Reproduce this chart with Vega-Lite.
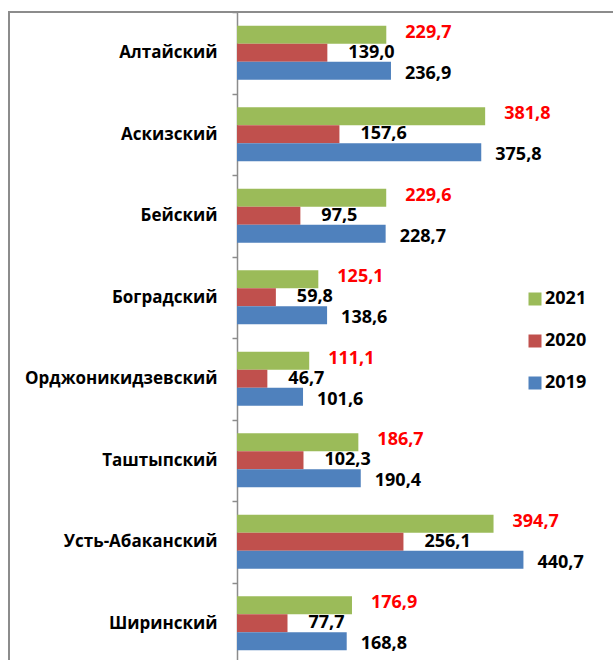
{
  "$schema": "https://vega.github.io/schema/vega-lite/v6.json",
  "autosize": {"type": "none"},
  "padding": {"left": 9, "top": 12, "right": -5, "bottom": -4},
  "width": 609,
  "height": 652,
  "config": {
    "view": {"stroke": "#8c8c8c", "strokeWidth": 2},
    "locale": {"number": {"decimal": ",", "thousands": " ", "grouping": [3], "currency": ["", ""]}},
    "font": "Open Sans"
  },
  "data": {
    "values": [
      {"district": "Алтайский", "year": "2021", "value": 229.7},
      {"district": "Алтайский", "year": "2020", "value": 139.0},
      {"district": "Алтайский", "year": "2019", "value": 236.9},
      {"district": "Аскизский", "year": "2021", "value": 381.8},
      {"district": "Аскизский", "year": "2020", "value": 157.6},
      {"district": "Аскизский", "year": "2019", "value": 375.8},
      {"district": "Бейский", "year": "2021", "value": 229.6},
      {"district": "Бейский", "year": "2020", "value": 97.5},
      {"district": "Бейский", "year": "2019", "value": 228.7},
      {"district": "Боградский", "year": "2021", "value": 125.1},
      {"district": "Боградский", "year": "2020", "value": 59.8},
      {"district": "Боградский", "year": "2019", "value": 138.6},
      {"district": "Орджоникидзевский", "year": "2021", "value": 111.1},
      {"district": "Орджоникидзевский", "year": "2020", "value": 46.7},
      {"district": "Орджоникидзевский", "year": "2019", "value": 101.6},
      {"district": "Таштыпский", "year": "2021", "value": 186.7},
      {"district": "Таштыпский", "year": "2020", "value": 102.3},
      {"district": "Таштыпский", "year": "2019", "value": 190.4},
      {"district": "Усть-Абаканский", "year": "2021", "value": 394.7},
      {"district": "Усть-Абаканский", "year": "2020", "value": 256.1},
      {"district": "Усть-Абаканский", "year": "2019", "value": 440.7},
      {"district": "Ширинский", "year": "2021", "value": 176.9},
      {"district": "Ширинский", "year": "2020", "value": 77.7},
      {"district": "Ширинский", "year": "2019", "value": 168.8}
    ]
  },
  "encoding": {
    "y": {
      "field": "district", "type": "nominal", "sort": null,
      "scale": {"paddingInner": 0, "paddingOuter": 0},
      "axis": {
        "title": null, "orient": "left", "offset": -228,
        "domainColor": "#8c8c8c", "domainWidth": 1.5,
        "tickColor": "#8c8c8c", "tickWidth": 1.5, "tickSize": 5, "tickBand": "extent",
        "labelPadding": 15, "labelFont": "Open Sans", "labelFontWeight": "bold",
        "labelFontSize": 17, "labelColor": "#000000", "labelLimit": 300
      }
    },
    "yOffset": {
      "field": "year", "type": "nominal",
      "scale": {"domain": ["2021", "2020", "2019"], "paddingInner": 0, "paddingOuter": 0.764}
    },
    "x": {
      "field": "value", "type": "quantitative",
      "scale": {"domain": [-350.8, 586.2], "nice": false, "zero": false},
      "axis": null
    }
  },
  "layer": [
    {
      "mark": {"type": "bar"},
      "encoding": {
        "color": {
          "field": "year", "type": "nominal",
          "scale": {"domain": ["2021", "2020", "2019"], "range": ["#9BBB59", "#C0504D", "#4F81BD"]},
          "legend": {
            "title": null, "orient": "none", "legendX": 517, "legendY": 278,
            "padding": 0, "symbolType": "square", "symbolSize": 169,
            "symbolStrokeWidth": 0, "symbolOpacity": 1,
            "labelFont": "Open Sans", "labelFontWeight": "bold", "labelFontSize": 18,
            "labelColor": "#000000", "labelOffset": 1, "rowPadding": 24
          }
        }
      }
    },
    {
      "transform": [{"filter": "datum.year === '2021'"}],
      "mark": {"type": "text", "align": "left", "baseline": "middle", "dx": 19, "dy": -2, "font": "Open Sans", "fontWeight": "bold", "fontSize": 18, "color": "#FF0000"},
      "encoding": {"text": {"field": "value", "type": "quantitative", "format": ".1f"}}
    },
    {
      "transform": [{"filter": "datum.year === '2020'"}],
      "mark": {"type": "text", "align": "left", "baseline": "middle", "dx": 21, "font": "Open Sans", "fontWeight": "bold", "fontSize": 18, "color": "#000000"},
      "encoding": {"text": {"field": "value", "type": "quantitative", "format": ".1f"}}
    },
    {
      "transform": [{"filter": "datum.year === '2019'"}],
      "mark": {"type": "text", "align": "left", "baseline": "middle", "dx": 14, "dy": 3, "font": "Open Sans", "fontWeight": "bold", "fontSize": 18, "color": "#000000"},
      "encoding": {"text": {"field": "value", "type": "quantitative", "format": ".1f"}}
    }
  ]
}
